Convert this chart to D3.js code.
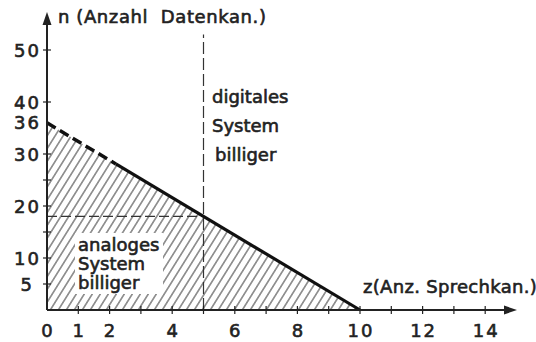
<!DOCTYPE html>
<html>
<head>
<meta charset="utf-8">
<script src="https://cdn.jsdelivr.net/npm/d3@7"></script>
<style>
  body { margin: 0; background: #fff; }
  text { font-family: "DejaVu Sans", sans-serif; font-weight: normal; fill: #222; stroke: #222; stroke-width: 0.6px; }
</style>
</head>
<body>
<svg id="chart" width="536" height="342"></svg>
<script>
// values
const xTicks = [1, 2, 3, 4, 5, 6, 7, 8, 9, 10, 11, 12, 13, 14];
const xLabels = [0, 1, 2, 4, 6, 8, 10, 12, 14];
const yTicks = [5, 10, 15, 20, 25, 30, 40, 50];
const yLabels = [5, 10, 20, 30, 36, 40, 50];
const boundary = [{ z: 0, n: 36 }, { z: 10, n: 0 }];
const dashedUntil = 2.2;          // z where the boundary line turns solid
const breakEven = { z: 5, n: 18 };
const dividerTop = 53;            // top of the vertical dashed line (n)

const svg = d3.select("#chart");
const x = d3.scaleLinear().domain([0, 10]).range([47, 360]);
const y = d3.scaleLinear().domain([0, 50]).range([310, 50]);
const lineAt = z => boundary[0].n + (boundary[1].n - boundary[0].n) * (z - boundary[0].z) / (boundary[1].z - boundary[0].z);

// hatch pattern
const defs = svg.append("defs");
defs.append("pattern")
  .attr("id", "hatch")
  .attr("patternUnits", "userSpaceOnUse")
  .attr("width", 8).attr("height", 8)
  .attr("patternTransform", "skewX(-32)")
  .append("line")
  .attr("x1", 4).attr("y1", 0).attr("x2", 4).attr("y2", 8)
  .attr("stroke", "#333").attr("stroke-width", 1.1);

const area = [{ z: 0, n: 0 }, boundary[0], boundary[1]];
svg.append("path")
  .attr("d", d3.line().x(d => x(d.z)).y(d => y(d.n))(area) + "Z")
  .attr("fill", "url(#hatch)");

// white box behind the lower label
svg.append("rect")
  .attr("x", 75).attr("y", 233).attr("width", 88).attr("height", 61)
  .attr("fill", "#fff");

// dashed guide lines
svg.append("line")
  .attr("x1", x(0)).attr("x2", x(breakEven.z))
  .attr("y1", y(breakEven.n)).attr("y2", y(breakEven.n))
  .attr("stroke", "#333").attr("stroke-width", 1.2)
  .attr("stroke-dasharray", "10,4");
svg.append("line")
  .attr("x1", x(breakEven.z)).attr("x2", x(breakEven.z))
  .attr("y1", y(0)).attr("y2", y(dividerTop))
  .attr("stroke", "#333").attr("stroke-width", 1.2)
  .attr("stroke-dasharray", "12,4");

// boundary line: dashed then solid
const bl = d3.line().x(d => x(d.z)).y(d => y(d.n));
svg.append("path")
  .attr("d", bl([boundary[0], { z: dashedUntil, n: lineAt(dashedUntil) }]))
  .attr("stroke", "#111").attr("stroke-width", 3.5).attr("fill", "none")
  .attr("stroke-dasharray", "10,5");
svg.append("path")
  .attr("d", bl([{ z: dashedUntil, n: lineAt(dashedUntil) }, boundary[1]]))
  .attr("stroke", "#111").attr("stroke-width", 3.2).attr("fill", "none");

// axes
const ax = svg.append("g").attr("stroke", "#222").attr("stroke-width", 2);
ax.append("line").attr("x1", x(0)).attr("x2", 510).attr("y1", y(0)).attr("y2", y(0));
ax.append("line").attr("x1", x(0)).attr("x2", x(0)).attr("y1", y(0)).attr("y2", 20);
svg.append("path").attr("d", "M517,310 L504,305.5 L504,314.5 Z").attr("fill", "#222");
svg.append("path").attr("d", "M47,12 L42.5,25 L51.5,25 Z").attr("fill", "#222");

svg.selectAll(".xt").data(xTicks).enter().append("line")
  .attr("x1", d => x(d)).attr("x2", d => x(d))
  .attr("y1", y(0) - 4).attr("y2", y(0) + 4)
  .attr("stroke", "#222").attr("stroke-width", 1.2);
svg.selectAll(".yt").data(yTicks).enter().append("line")
  .attr("x1", x(0) - 4).attr("x2", x(0) + 4)
  .attr("y1", d => y(d)).attr("y2", d => y(d))
  .attr("stroke", "#222").attr("stroke-width", 1.2);

svg.selectAll(".xl").data(xLabels).enter().append("text")
  .attr("x", d => x(d) + 1).attr("y", 337)
  .attr("text-anchor", "middle").style("font-size", "18px").style("letter-spacing", "2px")
  .text(d => d);
svg.selectAll(".yl").data(yLabels).enter().append("text")
  .attr("x", d => d < 10 ? 34 : 41).attr("y", d => y(d) + 6.5)
  .attr("text-anchor", "end").style("font-size", "18px").style("letter-spacing", "2px")
  .text(d => d);

// axis titles
svg.append("text").attr("x", 58).attr("y", 23).style("font-size", "18px").style("letter-spacing", "0.6px")
  .attr("xml:space", "preserve").text("n (Anzahl  Datenkan.)");
svg.append("text").attr("x", 363).attr("y", 293).style("font-size", "18px").style("letter-spacing", "0.3px")
  .text("z(Anz. Sprechkan.)");

// region labels
const upper = ["digitales", "System", "billiger"];
svg.selectAll(".ul").data(upper).enter().append("text")
  .attr("x", (d, i) => i === 2 ? 215 : 212).attr("y", (d, i) => 103 + i * 29)
  .style("font-size", "18px").text(d => d);
const lower = ["analoges", "System", "billiger"];
svg.selectAll(".ll").data(lower).enter().append("text")
  .attr("x", 78).attr("y", (d, i) => 251 + i * 19)
  .style("font-size", "18px").text(d => d);
</script>
</body>
</html>
